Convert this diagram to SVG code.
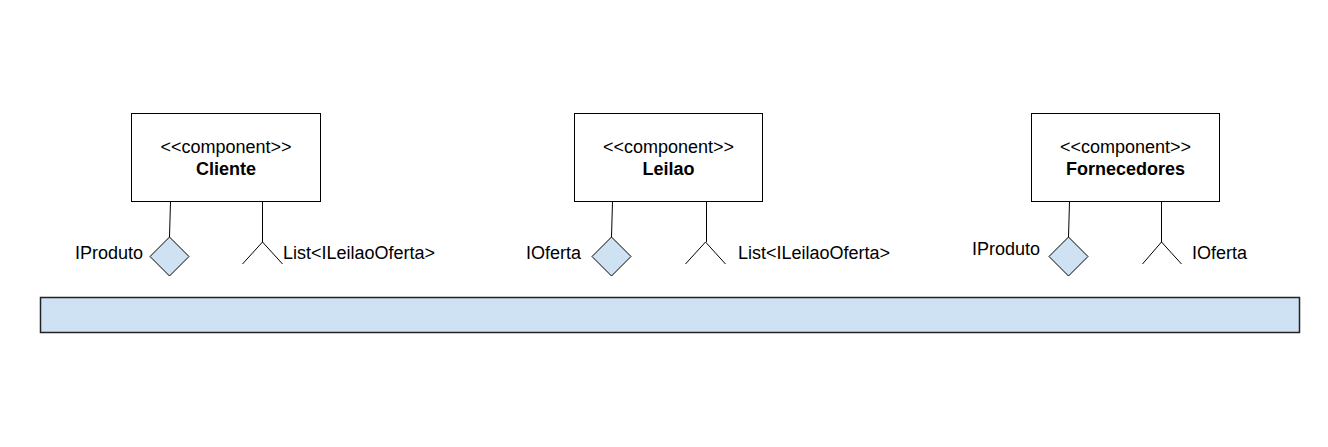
<svg xmlns="http://www.w3.org/2000/svg" width="1328" height="447" viewBox="0 0 1328 447">
<defs>
<style>
.box{fill:#fff;stroke:#000;stroke-width:1}
.bar{fill:#cfe2f3;stroke:#222;stroke-width:1.5}
.lol{fill:#cfe2f3;stroke:#000;stroke-width:1}
.ln{fill:none;stroke:#000;stroke-width:1}
text{font-family:"Liberation Sans",Arial,sans-serif;font-size:18px;fill:#000}
.b{font-weight:bold}
.m{text-anchor:middle}
.e{text-anchor:end}
</style>
</defs>
<rect width="1328" height="447" fill="#fff"/>
<g id="bus"><rect class="bar" x="40.5" y="297.5" width="1259" height="35"/></g>
<g id="cliente">
<rect class="box" x="131.5" y="113.5" width="189" height="88"/>
<text class="m" x="226" y="153">&lt;&lt;component&gt;&gt;</text>
<text class="m b" x="226" y="175">Cliente</text>
</g>
<g id="leilao">
<rect class="box" x="574.5" y="113.5" width="188" height="88"/>
<text class="m" x="668.5" y="153">&lt;&lt;component&gt;&gt;</text>
<text class="m b" x="668.5" y="175">Leilao</text>
</g>
<g id="fornecedores">
<rect class="box" x="1031.5" y="113.5" width="188" height="88"/>
<text class="m" x="1125.5" y="153">&lt;&lt;component&gt;&gt;</text>
<text class="m b" x="1125.5" y="175">Fornecedores</text>
</g>
<g id="connectors">
<line class="ln" x1="170.5" y1="201.5" x2="169.5" y2="237"/>
<path class="lol" d="M169.5 237 L189 256.5 L169.5 276 L150 256.5 Z"/>
<line class="ln" x1="262.5" y1="201.5" x2="262.5" y2="242"/>
<path class="ln" d="M242.5 264 L262.5 242 L282.5 264"/>
<line class="ln" x1="612.5" y1="201.5" x2="611.5" y2="237"/>
<path class="lol" d="M611.5 237 L631 256.5 L611.5 276 L592 256.5 Z"/>
<line class="ln" x1="706.5" y1="201.5" x2="706.5" y2="242"/>
<path class="ln" d="M685.5 264 L705.5 242 L725.5 264"/>
<line class="ln" x1="1069.5" y1="201.5" x2="1068.5" y2="237"/>
<path class="lol" d="M1068.5 237 L1088 256.5 L1068.5 276 L1049 256.5 Z"/>
<line class="ln" x1="1161.5" y1="201.5" x2="1161.5" y2="242"/>
<path class="ln" d="M1142.5 264 L1161.5 242 L1181.5 264"/>
</g>
<g id="labels">
<text class="e" x="143" y="259">IProduto</text>
<text x="283" y="259">List&lt;ILeilaoOferta&gt;</text>
<text class="e" x="581" y="259">IOferta</text>
<text x="738" y="259">List&lt;ILeilaoOferta&gt;</text>
<text class="e" x="1040" y="255">IProduto</text>
<text x="1192" y="259">IOferta</text>
</g>
</svg>
